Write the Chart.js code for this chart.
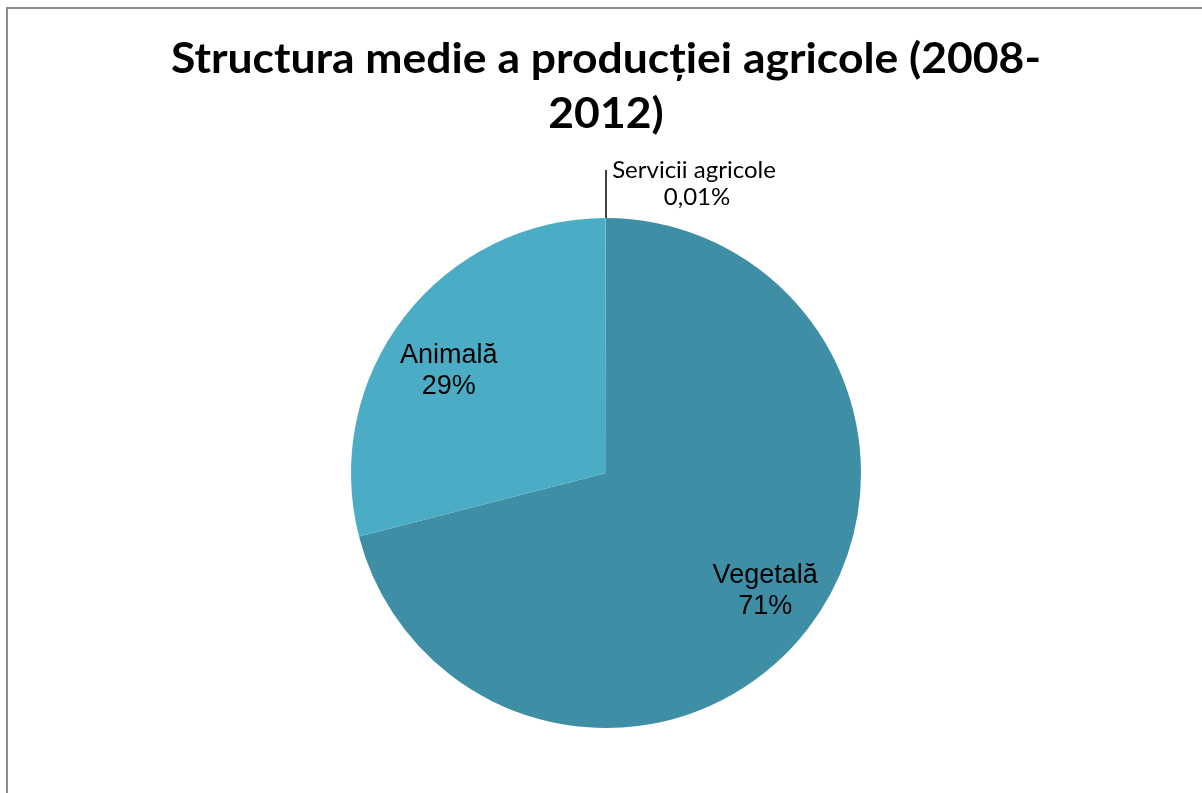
<!DOCTYPE html>
<html>
<head>
<meta charset="utf-8">
<script src="https://cdn.jsdelivr.net/npm/chart.js@4"></script>
<style>
    html, body { margin: 0; padding: 0; background: #fff; overflow: hidden; }
    #frame { position: absolute; left: 6px; top: 7px; width: 1300px; height: 900px; border: 2px solid #8c8c8c; box-sizing: border-box; }
    #wrap { position: absolute; left: 0; top: 0; width: 1202px; height: 793px; }
</style>
</head>
<body>
<div id="frame"></div>
<div id="wrap"><canvas id="pieChart"></canvas></div>
<script>
const labels = ['Vegetală', 'Animală', 'Servicii agricole'];
const shares = [71, 29, 0.01];
const shareText = ['71%', '29%', '0,01%'];
const colors = ['#3e8ea6', '#4bacc6', '#d9eef4'];
const titleLines = ['Structura medie a producției agricole (2008-', '2012)'];

// small nudges so the labels sit where Excel's "best fit" put them
const labelNudge = [[4, -4], [-2, 16]];

document.addEventListener('DOMContentLoaded', () => {
    const labelPlugin = {
        id: 'labelPlugin',
        afterDraw(chart) {
            const ctx = chart.ctx;
            ctx.save();

            // Title (Calibri-like: Lato bold squeezed horizontally)
            ctx.fillStyle = '#000';
            ctx.textAlign = 'center';
            ctx.textBaseline = 'alphabetic';
            ctx.font = 'bold 42px Lato';
            const sx = 870 / ctx.measureText(titleLines[0]).width;
            ctx.save();
            ctx.translate(606, 0);
            ctx.scale(sx, 1);
            ctx.fillText(titleLines[0], 0, 73);
            ctx.fillText(titleLines[1], 0, 128);
            ctx.restore();

            const arcs = chart.getDatasetMeta(0).data;
            arcs.forEach((arc, i) => {
                const p = arc.getProps(['x', 'y', 'startAngle', 'endAngle', 'outerRadius']);
                if (i < 2) {
                    const mid = (p.startAngle + p.endAngle) / 2;
                    const r = p.outerRadius * 0.77;
                    const x = p.x + Math.cos(mid) * r + labelNudge[i][0];
                    const y = p.y + Math.sin(mid) * r + labelNudge[i][1];
                    ctx.font = '27px "Liberation Sans"';
                    ctx.textAlign = 'center';
                    ctx.fillText(labels[i], x, y - 6);
                    ctx.fillText(shareText[i], x, y + 25);
                } else {
                    // leader line for the tiny slice
                    const top = p.y - p.outerRadius;
                    ctx.strokeStyle = '#000';
                    ctx.lineWidth = 1.5;
                    ctx.beginPath();
                    ctx.moveTo(p.x, top);
                    ctx.lineTo(p.x, top - 48);
                    ctx.stroke();
                    ctx.font = '24px Lato';
                    ctx.textAlign = 'center';
                    ctx.fillText(labels[i], p.x + 88, top - 40);
                    ctx.fillText(shareText[i], p.x + 91, top - 13);
                }
            });
            ctx.restore();
        }
    };

    const ctx = document.getElementById('pieChart').getContext('2d');
    new Chart(ctx, {
        type: 'pie',
        data: {
            labels: labels,
            datasets: [{
                data: shares,
                backgroundColor: colors,
                borderWidth: 0
            }]
        },
        options: {
            responsive: true,
            maintainAspectRatio: false,
            animation: false,
            layout: {
                padding: { top: 218, bottom: 65, left: 351, right: 341 }
            },
            plugins: {
                legend: { display: false },
                tooltip: { enabled: false }
            }
        },
        plugins: [labelPlugin]
    });
});
</script>
</body>
</html>
